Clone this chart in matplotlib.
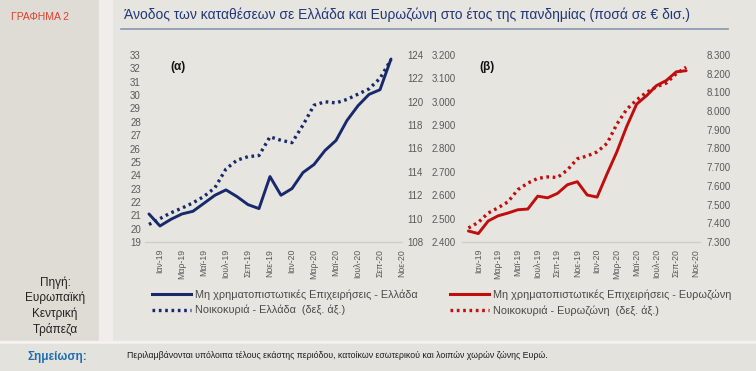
import matplotlib
matplotlib.use("Agg")
import matplotlib.pyplot as plt
from matplotlib.lines import Line2D
from matplotlib.patches import Rectangle
from matplotlib.ticker import FuncFormatter, MultipleLocator

plt.rcParams['font.family'] = ['Liberation Sans Narrow', 'Liberation Sans', 'DejaVu Sans']

# months Dec-18 .. Oct-20 (index 0..22), ticks every 2 months from Jan-19
months = list(range(23))
tick_pos = list(range(1, 24, 2))
tick_labels = ['Ιαν-19', 'Μαρ-19', 'Μαϊ-19', 'Ιουλ-19', 'Σεπ-19', 'Νοε-19',
               'Ιαν-20', 'Μαρ-20', 'Μαϊ-20', 'Ιουλ-20', 'Σεπ-20', 'Νοε-20']

# (α) Ελλάδα
gr_firms = [21.1, 20.2, 20.7, 21.1, 21.3, 21.9, 22.5, 22.9, 22.4, 21.8, 21.5, 23.9,
            22.5, 23.0, 24.2, 24.8, 25.85, 26.6, 28.1, 29.2, 30.05, 30.4, 32.7]
gr_house = [109.5, 110.0, 110.5, 110.9, 111.35, 111.9, 112.65, 114.25, 115.0, 115.3, 115.4, 117.0,
            116.7, 116.5, 118.0, 119.7, 120.0, 119.9, 120.2, 120.65, 121.1, 122.0, 123.6]

# (β) Ευρωζώνη
ez_firms = [2447, 2436, 2490, 2512, 2524, 2538, 2541, 2596, 2589, 2608, 2645, 2658,
            2601, 2592, 2691, 2786, 2895, 2990, 3026, 3069, 3091, 3128, 3133]
ez_house = [7375, 7405, 7455, 7483, 7515, 7580, 7615, 7640, 7648, 7645, 7685, 7745,
            7760, 7782, 7827, 7930, 8010, 8060, 8100, 8130, 8150, 8200, 8235]

NAVY = '#17296b'
RED = '#c00d0d'
BG = '#e7e5e0'
TICK = '#5a5a5a'

W, H = 756, 371
fig = plt.figure(figsize=(W / 100, H / 100), dpi=100)
fig.patch.set_facecolor(BG)


def px_box(x0, y0, x1, y1):
    return [x0 / W, 1 - y1 / H, (x1 - x0) / W, (y1 - y0) / H]


# background blocks
fig.add_artist(Rectangle((0, 0), 99 / W, 1, transform=fig.transFigure, color='#dfdcd6', zorder=0))
fig.add_artist(Rectangle((99 / W, 0), 13 / W, 1, transform=fig.transFigure, color='#efeeea', zorder=0))
fig.add_artist(Rectangle((0, 1 - 344 / H), 1, 3 / H, transform=fig.transFigure, color='#f4f3f0', zorder=0))
fig.add_artist(Rectangle((0, 0), 1, 1 - 344 / H, transform=fig.transFigure, color='#e4e2dd', zorder=0))

# header
fig.text(40 / W, 1 - 17 / H, 'ΓΡΑΦΗΜΑ 2', color='#e0402c', fontsize=7.5, ha='center', va='center')
fig.text(124 / W, 1 - 15 / H,
         'Άνοδος των καταθέσεων σε Ελλάδα και Ευρωζώνη στο έτος της πανδημίας (ποσά σε € δισ.)',
         color='#22377a', fontsize=10, ha='left', va='center')
fig.add_artist(Line2D([121 / W, 728 / W], [1 - 29 / H, 1 - 29 / H], transform=fig.transFigure,
                      color='#8896b0', lw=1.2))

# source / note
fig.text(55 / W, 1 - 306 / H, 'Πηγή:\nΕυρωπαϊκή\nΚεντρική\nΤράπεζα', color='#222222',
         fontsize=8.5, ha='center', va='center', linespacing=1.3)
fig.text(57 / W, 1 - 357 / H, 'Σημείωση:', color='#1f6db3', fontsize=8.5, fontweight='bold',
         ha='center', va='center')
fig.text(127 / W, 1 - 356 / H,
         'Περιλαμβάνονται υπόλοιπα τέλους εκάστης περιόδου, κατοίκων εσωτερικού και λοιπών χωρών ζώνης Ευρώ.',
         color='#1c1c1c', fontsize=6.3, ha='left', va='center')

dots = (0, (0.8, 1.1))


def style(ax):
    for s in ['top', 'left', 'right']:
        ax.spines[s].set_visible(False)
    ax.spines['bottom'].set_color('#cfcdc8')
    ax.set_facecolor('none')


def panel(box, xlim, left, right, llim, rlim, lstep, rstep, lfmt, rfmt, color, tag, tagx, lpad, rpad):
    ax = fig.add_axes(box)
    ax2 = ax.twinx()
    ax.plot(months, left, color=color, lw=2.1, solid_capstyle='round')
    ax2.plot(months, right, color=color, lw=2.4, linestyle=dots, dash_capstyle='butt')
    ax.set_xlim(*xlim)
    ax.set_ylim(*llim)
    ax2.set_ylim(*rlim)
    ax.yaxis.set_major_locator(MultipleLocator(lstep))
    ax2.yaxis.set_major_locator(MultipleLocator(rstep))
    ax.yaxis.set_major_formatter(FuncFormatter(lfmt))
    ax2.yaxis.set_major_formatter(FuncFormatter(rfmt))
    ax.set_xticks(tick_pos)
    ax.set_xticklabels(tick_labels, rotation=90, fontsize=6.3, color=TICK)
    ax.tick_params(axis='x', length=0, pad=5)
    ax.tick_params(axis='y', length=0, labelsize=7, labelcolor=TICK, pad=lpad)
    ax2.tick_params(axis='y', length=0, labelsize=7, labelcolor=TICK, pad=rpad)
    style(ax)
    style(ax2)
    ax.text(tagx, 0.97, tag, transform=ax.transAxes, fontsize=8.5, fontweight='bold',
            color='#111111', ha='left', va='top')
    return ax


def thousands(v, pos):
    return f'{int(round(v)):,}'.replace(',', '.')


ax_a = panel(px_box(145, 55, 402, 242), (-0.36, 23.0), gr_firms, gr_house, (19, 33), (108, 124),
             1, 2, lambda v, p: f'{int(round(v))}', lambda v, p: f'{int(round(v))}',
             NAVY, '(α)', 0.1, 3, 3.5)
ax_b = panel(px_box(462, 55, 700, 242), (-0.65, 23.4), ez_firms, ez_house, (2400, 3200), (7300, 8300),
             100, 100, thousands, thousands, RED, '(β)', 0.075, 4.5, 5)

# legends
def legend(ax, x, labels, color):
    h = [Line2D([], [], color=color, lw=2.2),
         Line2D([], [], color=color, lw=2.4, linestyle=dots)]
    leg = fig.legend(h, labels, loc='upper left', bbox_to_anchor=(x / W, 1 - 289 / H),
                     frameon=False, fontsize=7.8, handlelength=3.6, handletextpad=0.4,
                     labelspacing=0.5, borderaxespad=0, borderpad=0)
    for t in leg.get_texts():
        t.set_color('#4a4a4a')


legend(ax_a, 152, ['Μη χρηματοπιστωτικές Επιχειρήσεις - Ελλάδα', 'Νοικοκυριά - Ελλάδα  (δεξ. άξ.)'], NAVY)
legend(ax_b, 450, ['Μη χρηματοπιστωτικές Επιχειρήσεις - Ευρωζώνη', 'Νοικοκυριά - Ευρωζώνη  (δεξ. άξ.)'], RED)

fig.savefig('out.png', dpi=100, facecolor=fig.get_facecolor())
